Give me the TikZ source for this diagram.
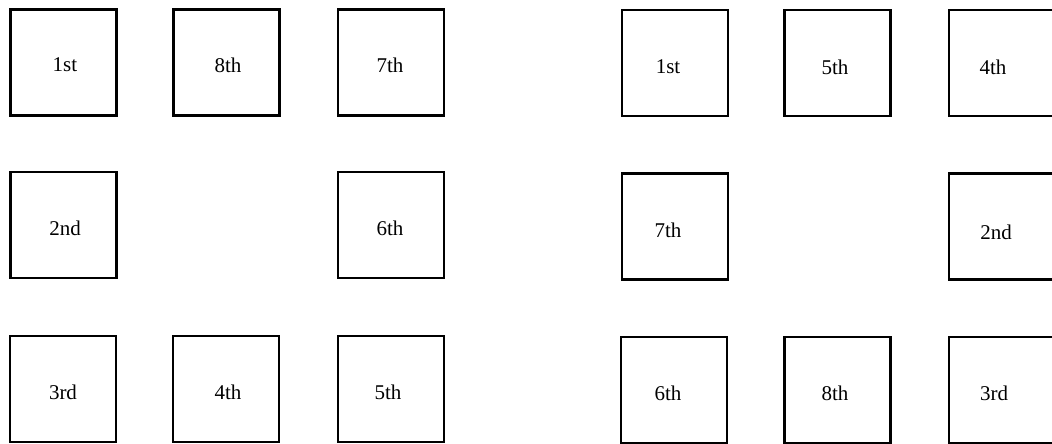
\documentclass[tikz,border=0pt]{standalone}
\usepackage{fontspec}
\setmainfont{Liberation Serif}
\begin{document}
\begin{tikzpicture}[x=1pt,y=-1pt,
  cell/.style={draw=black,line width=2.8pt,minimum width=106pt,minimum height=106pt,inner sep=0pt,fill=white},
  lab/.style={font=\fontsize{21}{25}\selectfont,inner sep=0pt,anchor=center}]
\useasboundingbox (0,0) rectangle (1052,444);
\clip (0,0) rectangle (1052,444);
% left grid
\node[cell] (L1) at (63.5,62.5) {};
\node[cell] (L8) at (226.5,62.5) {};
\node[cell] (L7) at (391,62.5) {};
\node[cell] (L2) at (63.5,225) {};
\node[cell] (L6) at (391,225) {};
\node[cell] (L3) at (63,389) {};
\node[cell] (L4) at (226,389) {};
\node[cell] (L5) at (391,389) {};
\node[lab] (tL1) at (65,65) {1st};
\node[lab] (tL8) at (228,65) {8th};
\node[lab] (tL7) at (390,65) {7th};
\node[lab] (tL2) at (65,228) {2nd};
\node[lab] (tL6) at (390,228) {6th};
\node[lab] (tL3) at (63,392) {3rd};
\node[lab] (tL4) at (228,392) {4th};
\node[lab] (tL5) at (388,392) {5th};
% right grid
\node[cell] (R1) at (675,63) {};
\node[cell] (R5) at (837.5,63) {};
\node[cell] (R4) at (1002,63) {};
\node[cell] (R7) at (675,226.5) {};
\node[cell] (R2) at (1002,226.5) {};
\node[cell] (R6) at (674,390) {};
\node[cell] (R8) at (837.5,390) {};
\node[cell] (R3) at (1002,390) {};
\node[lab] (tR1) at (668,67) {1st};
\node[lab] (tR5) at (835,67) {5th};
\node[lab] (tR4) at (993,67) {4th};
\node[lab] (tR7) at (668,230) {7th};
\node[lab] (tR2) at (996,232) {2nd};
\node[lab] (tR6) at (668,393) {6th};
\node[lab] (tR8) at (835,393) {8th};
\node[lab] (tR3) at (994,393) {3rd};
\end{tikzpicture}
\end{document}
